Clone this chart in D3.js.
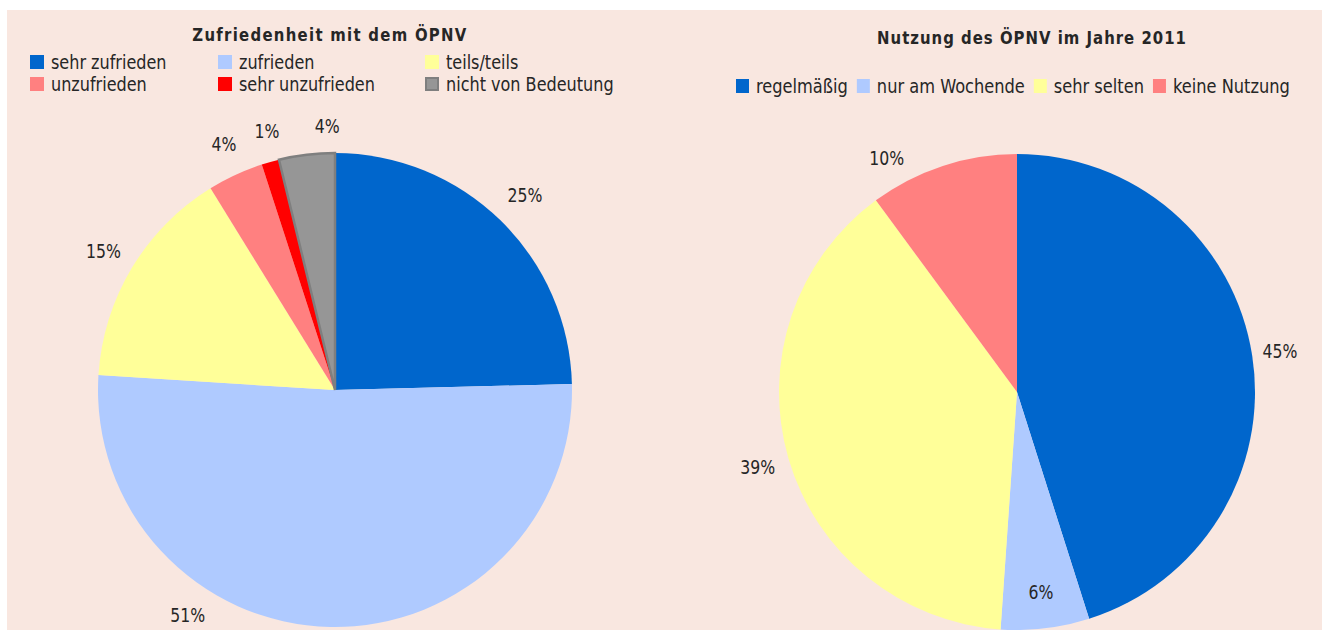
<!DOCTYPE html>
<html><head><meta charset="utf-8">
<script src="https://cdnjs.cloudflare.com/ajax/libs/d3/7.8.5/d3.min.js"></script>
<style>
html,body{margin:0;padding:0;background:#fff;}
svg{display:block;}
text{font-family:"DejaVu Sans Condensed","DejaVu Sans",sans-serif;font-stretch:condensed;fill:#262626;}
</style></head>
<body>
<svg id="chart" width="1322" height="630"></svg>
<script>
// ---- data ----
const leftTitle = "Zufriedenheit mit dem ÖPNV";
const leftCategories = ["sehr zufrieden","zufrieden","teils/teils","unzufrieden","sehr unzufrieden","nicht von Bedeutung"];
const leftValues = [24.6, 51.4, 15.2, 3.8, 1.2, 3.8];
const leftLabels = ["25%","51%","15%","4%","1%","4%"];
const leftColors = ["#0066CC","#AFCAFF","#FFFF99","#FF8080","#FF0000","#969696"];

const rightTitle = "Nutzung des ÖPNV im Jahre 2011";
const rightCategories = ["regelmäßig","nur am Wochende","sehr selten","keine Nutzung"];
const rightValues = [45.1, 6.0, 38.8, 10.1];
const rightLabels = ["45%","6%","39%","10%"];
const rightColors = ["#0066CC","#AFCAFF","#FFFF99","#FF8080"];

const svg = d3.select("#chart");
svg.append("rect").attr("x",7).attr("y",10).attr("width",1315).attr("height",620).attr("fill","#F9E7E0");

const SX = 0.92; // horizontal text squeeze to mimic a condensed face

function addText(parent, x, y, str, size, anchor, extra, sx){
  const g = parent.append("g").attr("transform",`translate(${x},${y}) scale(${sx||SX},1)`);
  const t = g.append("text").attr("x",0).attr("y",0)
    .attr("font-size",size).attr("text-anchor",anchor||"start")
    .attr("dominant-baseline","central").text(str);
  if(extra) extra(t);
  return t;
}

const pie = d3.pie().sort(null).value(d=>d);

function drawPie(cx, cy, r, values, colors, labels, labelPos){
  const g = svg.append("g").attr("transform",`translate(${cx},${cy})`);
  const arcs = pie(values);
  const arc = d3.arc().innerRadius(0).outerRadius(r);
  g.selectAll("path").data(arcs).join("path")
    .attr("d",arc)
    .attr("fill",(d,i)=>colors[i])
    .attr("stroke",(d,i)=>colors[i]==="#969696"?"#7F7F7F":"none")
    .attr("stroke-width",(d,i)=>colors[i]==="#969696"?2.5:0);
  arcs.forEach((d,i)=>{
    const lp = labelPos[i];
    const a = (d.startAngle+d.endAngle)/2 + (lp.da||0);
    addText(g, Math.sin(a)*lp.r, -Math.cos(a)*lp.r, labels[i], 19, "middle");
  });
}

drawPie(335, 390, 237, leftValues, leftColors, leftLabels,
  [{r:272},{r:269,da:0.56},{r:270},{r:270,da:0.01},{r:268,da:0.02},{r:264,da:0.09}]);
drawPie(1017, 392, 238, rightValues, rightColors, rightLabels,
  [{r:266},{r:202},{r:270},{r:268,da:-0.19}]);

// titles
addText(svg, 330, 35, leftTitle, 18, "middle", t=>t.attr("font-weight","bold").attr("letter-spacing","1.4px"));
addText(svg, 1032, 38, rightTitle, 18, "middle", t=>t.attr("font-weight","bold").attr("letter-spacing","1.1px"));

// left legend (3 columns x 2 rows)
const colX = [30, 218, 425];
const rowY = [62, 84];
leftCategories.forEach((c,i)=>{
  const col = i%3, row = Math.floor(i/3);
  const x = colX[col], y = rowY[row];
  const isGrey = leftColors[i]==="#969696";
  svg.append("rect").attr("x",x+(isGrey?1:0)).attr("y",y-7+(isGrey?1:0))
    .attr("width",isGrey?12:14).attr("height",isGrey?12:14)
    .attr("fill",leftColors[i])
    .attr("stroke",isGrey?"#7F7F7F":"none").attr("stroke-width",isGrey?2:0);
  addText(svg, x+21, y, c, 19, "start", null, 0.94);
});

// right legend (one row)
let rx = 736;
const ry = 86;
const RSX = 0.95;
rightCategories.forEach((c,i)=>{
  svg.append("rect").attr("x",rx).attr("y",ry-7).attr("width",13).attr("height",14).attr("fill",rightColors[i]);
  const t = addText(svg, rx+20, ry, c, 19, "start", null, RSX);
  rx += 20 + t.node().getComputedTextLength()*RSX + 9;
});
</script>
</body></html>
